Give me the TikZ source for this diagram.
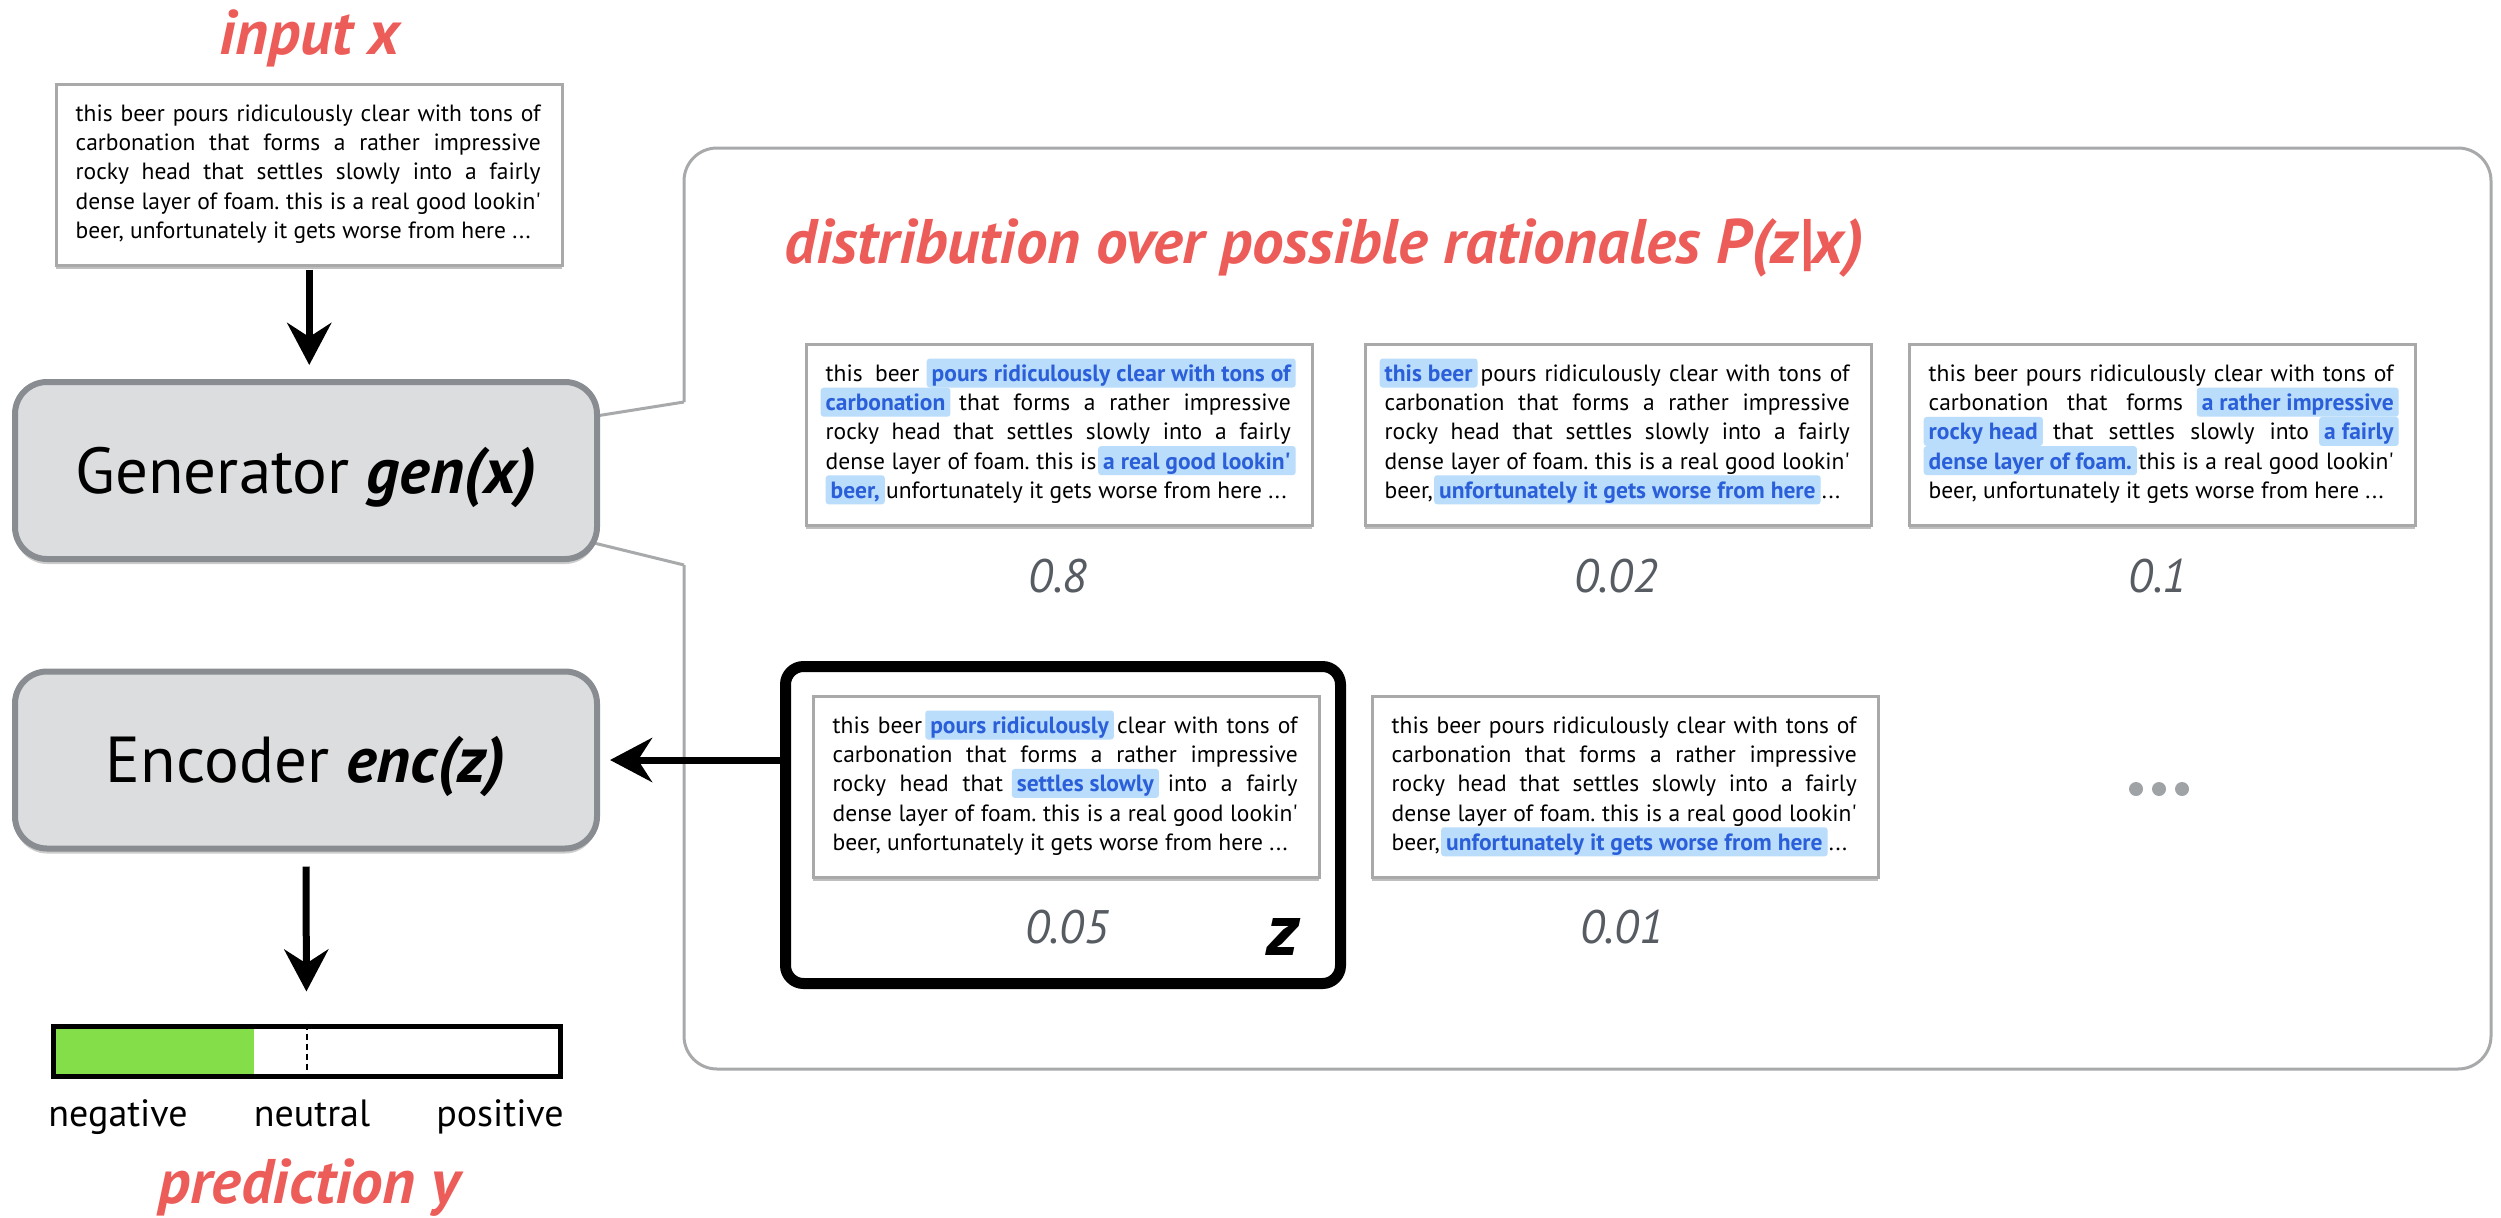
\documentclass[tikz,border=0pt]{standalone}
\usepackage{fontspec}
\setmainfont{PT Sans}
\usetikzlibrary{arrows.meta,shadows}
\definecolor{redc}{HTML}{EC5C58}
\definecolor{hlbg}{HTML}{B9DDFB}
\definecolor{hltext}{HTML}{2B5FD9}
\definecolor{probgray}{HTML}{575C63}
\definecolor{boxgray}{HTML}{A9A9A9}
\definecolor{procfill}{HTML}{DCDDDF}
\definecolor{procborder}{HTML}{898C90}
\definecolor{framegray}{HTML}{A7A9AB}
\definecolor{barg}{HTML}{84DE4A}
\definecolor{dotgray}{HTML}{A0A3A6}
\frenchspacing
\tikzset{
  tb/.style={draw=boxgray, line width=2.5pt, fill=white, minimum width=506pt, minimum height=181pt, inner sep=0pt,
    drop shadow={shadow xshift=0pt, shadow yshift=-4pt, opacity=0.25, fill=black}},
  tt/.style={inner sep=0pt, anchor=base west},
  hlbox/.style={fill=hlbg, text=hltext, rounded corners=3pt, inner xsep=5pt, inner ysep=0pt, text height=23pt, text depth=6pt},
  prob/.style={text=probgray, font=\fontsize{47}{47}\selectfont\itshape, anchor=base, inner sep=0pt},
  redt/.style={text=redc, font=\fontsize{63}{63}\selectfont\bfseries\itshape, anchor=base, inner sep=0pt},
  proc/.style={draw=procborder, line width=6pt, fill=procfill, rounded corners=32pt, minimum width=582pt, minimum height=177pt,
    font=\fontsize{65}{65}\selectfont, text height=45pt, text depth=0pt, inner sep=0pt,
    drop shadow={shadow xshift=0pt, shadow yshift=-5pt, opacity=0.2, fill=black}},
  zbox/.style={draw=black, line width=11pt, fill=white, rounded corners=18pt, minimum width=555pt, minimum height=317pt, inner sep=0pt,
    drop shadow={shadow xshift=0pt, shadow yshift=-5pt, opacity=0.2, fill=black}},
  framestyle/.style={draw=framegray, line width=3pt},
  arr/.style={line width=7pt, -{Stealth[length=42pt, width=44pt, inset=14pt]}},
  lab/.style={font=\fontsize{38}{38}\selectfont, anchor=base, inner sep=0pt},
  dotn/.style={circle, fill=dotgray, minimum size=14pt, inner sep=0pt},
  barbox/.style={draw=black, line width=5pt, minimum width=507pt, minimum height=50pt, inner sep=0pt},
}
\newcommand\hl[1]{\hspace{-5pt}\tikz[baseline=(h.base)]\node[hlbox](h){\bfseries #1};\hspace{-5pt}}
\newcommand\jl[1]{\makebox[465pt][s]{#1}\\}
\newcommand\tbox[4]{%
  \node[tb, anchor=north west] (#1) at (#2,#3) {};
  \node[tt] (#1t) at ({#2+20.5},{#3+38.5}) {\parbox[t]{480pt}{\fontsize{23.5}{29.2}\selectfont #4}};}
\begin{document}
\begin{tikzpicture}[x=1pt,y=-1pt]
\useasboundingbox (0,0) rectangle (2501,1218);
% frame (callout)
\coordinate (c1) at (684,402);
\coordinate (c2) at (684,565);
\coordinate (g1) at (596,416);
\coordinate (g2) at (594,543);
\draw[framestyle, rounded corners=33pt] (c1) -- (684,148) -- (2491,148) -- (2491,1069) -- (684,1069) -- (c2);
\draw[framestyle] (c1) -- (g1);
\draw[framestyle] (c2) -- (g2);
% titles
\node[redt] (tin) at (310,54) {input x};
\node[redt] (tdist) at (1324,263) {distribution over possible rationales P(z|x)};
\node[redt] (tpred) at (309,1203) {prediction y};
% input box
\tbox{inbox}{55}{83}{%
\jl{this beer pours ridiculously clear with tons of}
\jl{carbonation that forms a rather impressive}
\jl{rocky head that settles slowly into a fairly}
\jl{dense layer of foam. this is a real good lookin\textquotesingle}
beer, unfortunately it gets worse from here ...}
% generator / encoder
\node[proc] (gen) at (306,470.5) {Generator \textbf{\textit{gen(x)}}};
\node[proc] (enc) at (306,760) {Encoder \textbf{\textit{enc(z)}}};
% top row
\tbox{ba}{805}{343}{%
\jl{this beer \hl{pours ridiculously clear with tons of}}
\jl{\hl{carbonation} that forms a rather impressive}
\jl{rocky head that settles slowly into a fairly}
\jl{dense layer of foam. this is \hl{a real good lookin\textquotesingle}}
\hl{beer,} unfortunately it gets worse from here ...}
\tbox{bb}{1364}{343}{%
\jl{\hl{this beer} pours ridiculously clear with tons of}
\jl{carbonation that forms a rather impressive}
\jl{rocky head that settles slowly into a fairly}
\jl{dense layer of foam. this is a real good lookin\textquotesingle}
beer, \hl{unfortunately it gets worse from here} ...}
\tbox{bc}{1908}{343}{%
\jl{this beer pours ridiculously clear with tons of}
\jl{carbonation that forms \hl{a rather impressive}}
\jl{\hl{rocky head} that settles slowly into \hl{a fairly}}
\jl{\hl{dense layer of foam.} this is a real good lookin\textquotesingle}
beer, unfortunately it gets worse from here ...}
\node[prob] (p1) at (1058,592) {0.8};
\node[prob] (p2) at (1616,592) {0.02};
\node[prob] (p3) at (2158,592) {0.1};
% bottom row
\node[zbox] (zb) at (1063,825) {};
\tbox{bd}{812}{695}{%
\jl{this beer \hl{pours ridiculously} clear with tons of}
\jl{carbonation that forms a rather impressive}
\jl{rocky head that \hl{settles slowly} into a fairly}
\jl{dense layer of foam. this is a real good lookin\textquotesingle}
beer, unfortunately it gets worse from here ...}
\tbox{be}{1371}{695}{%
\jl{this beer pours ridiculously clear with tons of}
\jl{carbonation that forms a rather impressive}
\jl{rocky head that settles slowly into a fairly}
\jl{dense layer of foam. this is a real good lookin\textquotesingle}
beer, \hl{unfortunately it gets worse from here} ...}
\node[prob] (p4) at (1067,943) {0.05};
\node[prob] (p5) at (1622,943) {0.01};
\node[anchor=base, inner sep=0pt, font=\fontsize{74}{74}\selectfont\bfseries\itshape] (zl) at (1283,955) {z};
\node[dotn] (d1) at (2136,789) {};
\node[dotn] (d2) at (2159,789) {};
\node[dotn] (d3) at (2182,789) {};
% prediction bar
\fill[barg] (55.5,1028.5) rectangle (254,1073.5);
\node[barbox] (bar) at (306.5,1051) {};
\draw[line width=2pt, dash pattern=on 6pt off 4pt] (bar.north) -- (bar.south);
\node[lab] (lneg) at (118,1126) {negative};
\node[lab] (lneu) at (312,1126) {neutral};
\node[lab] (lpos) at (500,1126) {positive};
% arrows
\draw[arr, shorten <=3pt, shorten >=14pt] (inbox.south) -- (inbox.south |- gen.north);
\draw[arr, shorten <=15pt, shorten >=32pt] (enc.south) -- (bar.north);
\draw[arr, shorten >=10pt] (zb.west |- enc.east) -- (enc.east);
\end{tikzpicture}
\end{document}
